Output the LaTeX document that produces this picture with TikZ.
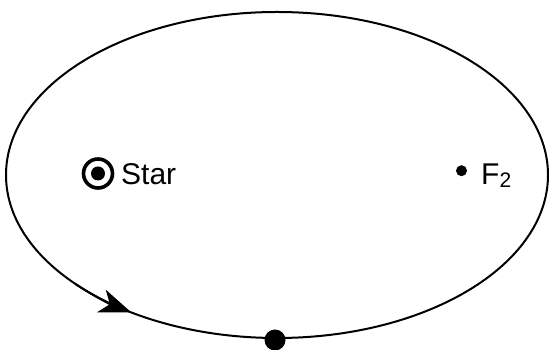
\documentclass[tikz,border=0pt]{standalone}
\usepackage{fontspec}
\setmainfont{Liberation Sans}
\usetikzlibrary{arrows.meta}

\tikzset{
    orbit/.style={line width=2pt, black},
    dotnode/.style={circle, fill=black, inner sep=0pt},
    lbl/.style={inner sep=0pt, anchor=base west, font=\fontsize{30}{34}\selectfont}
}

\begin{document}
\begin{tikzpicture}[x=1pt, y=1pt]

    \useasboundingbox (0,0) rectangle (549,350);

    % orbit
    \draw[orbit] (277,175) ellipse (271 and 163);
    \draw[orbit, -{Stealth[length=32pt, width=24pt, inset=9pt]}]
        ([shift={(277,175)}]222:271 and 163) arc (222:237.5:271 and 163);

    % star at focus
    \node[circle, draw, line width=3.6pt, minimum size=29pt, inner sep=0pt] (star) at (98,176.5) {};
    \node[dotnode, minimum size=14pt] (stardot) at (star.center) {};
    \node[lbl] (starlabel) at (121,165) {Star};

    % empty focus
    \node[dotnode, minimum size=11pt] (ftwo) at (461.5,179.3) {};
    \node[lbl] (ftwolabel) at (481,165.5) {F\raisebox{-3.5pt}{\fontsize{21}{21}\selectfont 2}};

    % planet
    \node[dotnode, minimum size=21pt] (planet) at (275,10) {};

\end{tikzpicture}
\end{document}
